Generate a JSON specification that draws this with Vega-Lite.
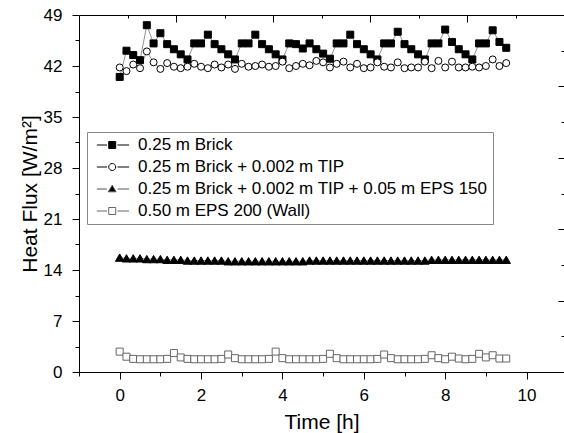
{
  "$schema": "https://vega.github.io/schema/vega-lite/v6.json",
  "width": 485,
  "height": 357,
  "autosize": {"type": "none"},
  "padding": {"left": 79, "top": 15, "right": 0, "bottom": 61},
  "config": {
    "view": {"stroke": null},
    "font": "Liberation Sans",
    "axis": {
      "domainColor": "black", "tickColor": "black", "labelColor": "black", "titleColor": "black",
      "labelFont": "Liberation Sans", "titleFont": "Liberation Sans",
      "labelFontSize": 17, "titleFontSize": 21, "titleFontWeight": "normal",
      "grid": false, "domainWidth": 1, "tickWidth": 1, "labelOverlap": false, "labelFlush": false
    },
    "legend": {
      "title": null, "orient": "none", "legendX": 8, "legendY": 117,
      "padding": 4.5, "strokeColor": "#888", "fillColor": "white",
      "labelFont": "Liberation Sans", "labelFontSize": 17, "labelColor": "black",
      "labelLimit": 1000, "labelOffset": 29.5, "rowPadding": 4,
      "symbolSize": 49, "symbolStrokeWidth": 1, "symbolOpacity": 1
    }
  },
  "datasets": {
    "flux": [
      {"t": 0, "brick": 40.5, "tip": 41.8, "eps150": 15.7, "eps200": 2.8},
      {"t": 0.1667, "brick": 44.1, "tip": 41.3, "eps150": 15.6, "eps200": 2.1},
      {"t": 0.3333, "brick": 43.5, "tip": 42.2, "eps150": 15.6, "eps200": 1.8},
      {"t": 0.5, "brick": 42.8, "tip": 41.7, "eps150": 15.6, "eps200": 1.75},
      {"t": 0.6667, "brick": 47.6, "tip": 44.0, "eps150": 15.5, "eps200": 1.75},
      {"t": 0.8333, "brick": 45.1, "tip": 42.5, "eps150": 15.5, "eps200": 1.75},
      {"t": 1, "brick": 46.5, "tip": 41.6, "eps150": 15.5, "eps200": 1.75},
      {"t": 1.1667, "brick": 45.0, "tip": 42.4, "eps150": 15.4, "eps200": 1.8},
      {"t": 1.3333, "brick": 44.3, "tip": 41.9, "eps150": 15.4, "eps200": 2.6},
      {"t": 1.5, "brick": 43.6, "tip": 41.7, "eps150": 15.4, "eps200": 2.0},
      {"t": 1.6667, "brick": 42.9, "tip": 41.9, "eps150": 15.3, "eps200": 1.8},
      {"t": 1.8333, "brick": 45.1, "tip": 42.3, "eps150": 15.3, "eps200": 1.75},
      {"t": 2, "brick": 45.1, "tip": 41.9, "eps150": 15.3, "eps200": 1.75},
      {"t": 2.1667, "brick": 46.3, "tip": 41.7, "eps150": 15.3, "eps200": 1.75},
      {"t": 2.3333, "brick": 45.0, "tip": 42.2, "eps150": 15.3, "eps200": 1.75},
      {"t": 2.5, "brick": 44.3, "tip": 41.8, "eps150": 15.3, "eps200": 1.8},
      {"t": 2.6667, "brick": 43.6, "tip": 42.2, "eps150": 15.2, "eps200": 2.4},
      {"t": 2.8333, "brick": 42.9, "tip": 41.6, "eps150": 15.2, "eps200": 1.9},
      {"t": 3, "brick": 45.1, "tip": 42.3, "eps150": 15.2, "eps200": 1.75},
      {"t": 3.1667, "brick": 45.1, "tip": 41.9, "eps150": 15.2, "eps200": 1.75},
      {"t": 3.3333, "brick": 46.3, "tip": 42.0, "eps150": 15.2, "eps200": 1.75},
      {"t": 3.5, "brick": 45.0, "tip": 42.2, "eps150": 15.2, "eps200": 1.75},
      {"t": 3.6667, "brick": 44.3, "tip": 41.9, "eps150": 15.2, "eps200": 1.8},
      {"t": 3.8333, "brick": 43.6, "tip": 42.0, "eps150": 15.2, "eps200": 2.8},
      {"t": 4, "brick": 42.9, "tip": 42.6, "eps150": 15.2, "eps200": 1.9},
      {"t": 4.1667, "brick": 45.1, "tip": 41.7, "eps150": 15.2, "eps200": 1.75},
      {"t": 4.3333, "brick": 45.0, "tip": 42.0, "eps150": 15.2, "eps200": 1.75},
      {"t": 4.5, "brick": 44.4, "tip": 42.3, "eps150": 15.2, "eps200": 1.75},
      {"t": 4.6667, "brick": 45.1, "tip": 42.1, "eps150": 15.3, "eps200": 1.75},
      {"t": 4.8333, "brick": 44.3, "tip": 42.7, "eps150": 15.3, "eps200": 1.75},
      {"t": 5, "brick": 43.7, "tip": 42.5, "eps150": 15.3, "eps200": 1.8},
      {"t": 5.1667, "brick": 43.0, "tip": 41.8, "eps150": 15.3, "eps200": 2.5},
      {"t": 5.3333, "brick": 45.1, "tip": 42.3, "eps150": 15.3, "eps200": 1.9},
      {"t": 5.5, "brick": 45.1, "tip": 42.6, "eps150": 15.3, "eps200": 1.75},
      {"t": 5.6667, "brick": 46.3, "tip": 41.8, "eps150": 15.3, "eps200": 1.75},
      {"t": 5.8333, "brick": 45.0, "tip": 42.3, "eps150": 15.3, "eps200": 1.75},
      {"t": 6, "brick": 44.3, "tip": 41.7, "eps150": 15.3, "eps200": 1.75},
      {"t": 6.1667, "brick": 43.6, "tip": 41.8, "eps150": 15.3, "eps200": 1.75},
      {"t": 6.3333, "brick": 42.9, "tip": 42.5, "eps150": 15.3, "eps200": 1.8},
      {"t": 6.5, "brick": 45.1, "tip": 41.9, "eps150": 15.3, "eps200": 2.4},
      {"t": 6.6667, "brick": 45.1, "tip": 41.8, "eps150": 15.3, "eps200": 1.9},
      {"t": 6.8333, "brick": 46.7, "tip": 42.5, "eps150": 15.3, "eps200": 1.75},
      {"t": 7, "brick": 45.0, "tip": 41.7, "eps150": 15.3, "eps200": 1.75},
      {"t": 7.1667, "brick": 44.3, "tip": 41.8, "eps150": 15.3, "eps200": 1.75},
      {"t": 7.3333, "brick": 43.6, "tip": 41.8, "eps150": 15.3, "eps200": 1.75},
      {"t": 7.5, "brick": 42.9, "tip": 42.6, "eps150": 15.3, "eps200": 1.8},
      {"t": 7.6667, "brick": 45.1, "tip": 41.7, "eps150": 15.4, "eps200": 2.3},
      {"t": 7.8333, "brick": 45.1, "tip": 42.7, "eps150": 15.4, "eps200": 1.9},
      {"t": 8, "brick": 47.0, "tip": 41.8, "eps150": 15.4, "eps200": 1.75},
      {"t": 8.1667, "brick": 45.3, "tip": 42.6, "eps150": 15.4, "eps200": 2.1},
      {"t": 8.3333, "brick": 44.3, "tip": 41.8, "eps150": 15.4, "eps200": 1.85},
      {"t": 8.5, "brick": 43.6, "tip": 41.8, "eps150": 15.4, "eps200": 1.75},
      {"t": 8.6667, "brick": 42.9, "tip": 41.9, "eps150": 15.4, "eps200": 1.8},
      {"t": 8.8333, "brick": 45.1, "tip": 41.8, "eps150": 15.4, "eps200": 2.5},
      {"t": 9, "brick": 45.1, "tip": 42.0, "eps150": 15.4, "eps200": 2.0},
      {"t": 9.1667, "brick": 46.9, "tip": 42.9, "eps150": 15.4, "eps200": 2.3},
      {"t": 9.3333, "brick": 45.3, "tip": 42.0, "eps150": 15.4, "eps200": 1.85},
      {"t": 9.5, "brick": 44.5, "tip": 42.4, "eps150": 15.4, "eps200": 1.85}
    ]
  },
  "layer": [
    {
      "data": {"name": "flux"},
      "transform": [{"fold": ["brick", "tip", "eps150", "eps200"], "as": ["series", "v"]}],
      "encoding": {
        "x": {
          "field": "t", "type": "quantitative",
          "scale": {"domain": [-1, 10.92], "nice": false, "zero": false},
          "axis": {
            "orient": "bottom", "title": "Time [h]",
            "values": [-1, 0, 1, 2, 3, 4, 5, 6, 7, 8, 9, 10],
            "labelExpr": "datum.value % 2 === 0 ? datum.label : ''",
            "tickSize": {"condition": {"test": "datum.value % 2 !== 0", "value": 4}, "value": 7},
            "labelPadding": 8, "titlePadding": 8
          }
        },
        "y": {
          "field": "v", "type": "quantitative",
          "scale": {"domain": [0, 49], "nice": false, "zero": true},
          "axis": {
            "orient": "left", "title": "Heat Flux [W/m²]",
            "values": [0, 3.5, 7, 10.5, 14, 17.5, 21, 24.5, 28, 31.5, 35, 38.5, 42, 45.5, 49],
            "labelExpr": "datum.value % 7 === 0 ? datum.label : ''",
            "tickSize": {"condition": {"test": "datum.value % 7 !== 0", "value": 4}, "value": 7},
            "labelPadding": 10, "titlePadding": 3
          }
        }
      },
      "layer": [
        {
          "mark": {"type": "line", "stroke": "#777", "strokeWidth": 0.8},
          "encoding": {"detail": {"field": "series"}}
        },
        {
          "transform": [{"filter": "datum.series === 'brick'"}],
          "mark": {"type": "point", "shape": "square", "filled": true, "fill": "black", "size": 49, "opacity": 1, "stroke": "black", "strokeWidth": 1}
        },
        {
          "transform": [{"filter": "datum.series === 'tip'"}],
          "mark": {"type": "point", "shape": "circle", "filled": true, "fill": "white", "size": 49, "opacity": 1, "stroke": "black", "strokeWidth": 1}
        },
        {
          "transform": [{"filter": "datum.series === 'eps150'"}],
          "mark": {"type": "point", "shape": "triangle-up", "filled": true, "fill": "black", "size": 72, "opacity": 1, "stroke": "black", "strokeWidth": 1}
        },
        {
          "transform": [{"filter": "datum.series === 'eps200'"}],
          "mark": {"type": "point", "shape": "square", "filled": true, "fill": "white", "size": 49, "opacity": 1, "stroke": "#666", "strokeWidth": 1}
        },
        {
          "mark": {"type": "point", "filled": true, "size": 49, "opacity": 0, "strokeWidth": 1},
          "encoding": {
            "shape": {
              "field": "series", "type": "nominal",
              "scale": {
                "domain": ["brick", "tip", "eps150", "eps200"],
                "range": [
                  "M-0.9,0H2.0M4.98,0H8.3M2.49,-1H4.49V1H2.49Z",
                  "M-0.9,0H2.0M4.98,0H8.3M4.49,0A1,1,0,1,1,2.49,0A1,1,0,1,1,4.49,0Z",
                  "M-0.9,0H1.95M5.03,0H8.3M3.49,-1.1L4.59,0.8L2.39,0.8Z",
                  "M-0.9,0H2.0M4.98,0H8.3M2.49,-1H4.49V1H2.49Z"
                ]
              },
              "legend": {"labelExpr": "datum.value === 'brick' ? '0.25 m Brick' : datum.value === 'tip' ? '0.25 m Brick + 0.002 m TIP' : datum.value === 'eps150' ? '0.25 m Brick + 0.002 m TIP + 0.05 m EPS 150' : '0.50 m EPS 200 (Wall)'"}
            },
            "fill": {
              "field": "series", "type": "nominal",
              "scale": {"domain": ["brick", "tip", "eps150", "eps200"], "range": ["black", "white", "black", "white"]},
              "legend": {"labelExpr": "datum.value === 'brick' ? '0.25 m Brick' : datum.value === 'tip' ? '0.25 m Brick + 0.002 m TIP' : datum.value === 'eps150' ? '0.25 m Brick + 0.002 m TIP + 0.05 m EPS 150' : '0.50 m EPS 200 (Wall)'"}
            },
            "stroke": {
              "field": "series", "type": "nominal",
              "scale": {"domain": ["brick", "tip", "eps150", "eps200"], "range": ["black", "black", "#555", "#666"]},
              "legend": {"labelExpr": "datum.value === 'brick' ? '0.25 m Brick' : datum.value === 'tip' ? '0.25 m Brick + 0.002 m TIP' : datum.value === 'eps150' ? '0.25 m Brick + 0.002 m TIP + 0.05 m EPS 150' : '0.50 m EPS 200 (Wall)'"}
            }
          }
        }
      ]
    },
    {
      "data": {"values": [{}]},
      "mark": {"type": "rule", "opacity": 0},
      "encoding": {
        "x": {
          "datum": 0, "type": "quantitative",
          "scale": {"domain": [0, 5], "nice": false},
          "axis": {
            "orient": "top", "title": null, "labels": false,
            "values": [0.5, 1, 1.5, 2, 2.5, 3, 3.5, 4, 4.5],
            "tickSize": {"condition": {"test": "datum.value % 1 !== 0", "value": -3}, "value": -7}
          }
        }
      }
    },
    {
      "data": {"values": [{}]},
      "mark": {"type": "rule", "opacity": 0},
      "encoding": {
        "y": {
          "datum": 0, "type": "quantitative",
          "scale": {"domain": [0, 5], "nice": false},
          "axis": {
            "orient": "right", "title": null, "labels": false, "domain": false,
            "values": [0.5, 1, 1.5, 2, 2.5, 3, 3.5, 4, 4.5],
            "tickSize": {"condition": {"test": "datum.value % 1 !== 0", "value": -3}, "value": -6}
          }
        }
      }
    }
  ],
  "resolve": {
    "scale": {"x": "independent", "y": "independent"},
    "axis": {"x": "independent", "y": "independent"}
  }
}
